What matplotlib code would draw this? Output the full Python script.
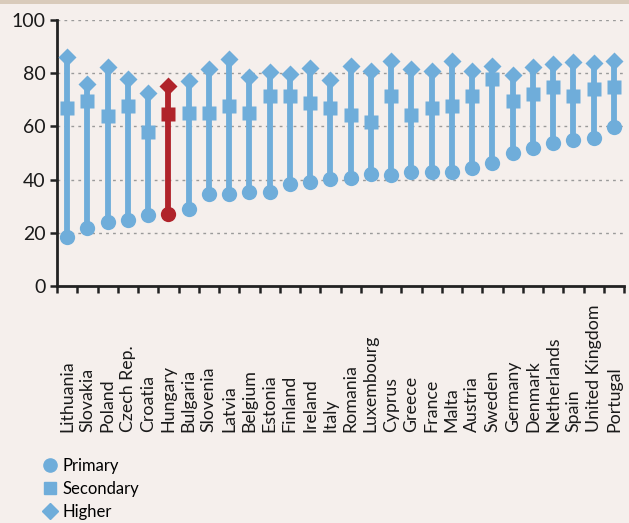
import matplotlib
matplotlib.use("Agg")
import matplotlib.pyplot as plt
from matplotlib.lines import Line2D
from matplotlib.patches import Rectangle
import numpy as np

plt.rcParams['font.family'] = ['Lato', 'DejaVu Sans']

countries = ["Lithuania", "Slovakia", "Poland", "Czech Rep.", "Croatia", "Hungary",
             "Bulgaria", "Slovenia", "Latvia", "Belgium", "Estonia", "Finland",
             "Ireland", "Italy", "Romania", "Luxembourg", "Cyprus", "Greece",
             "France", "Malta", "Austria", "Sweden", "Germany", "Denmark",
             "Netherlands", "Spain", "United Kingdom", "Portugal"]
primary = [18.5, 21.9, 24.2, 24.8, 26.7, 27.2, 28.9, 34.5, 34.5, 35.3, 35.3, 38.2,
           39.2, 40.1, 40.7, 42.1, 41.8, 42.7, 42.7, 42.7, 44.5, 46.4, 50.1, 52.0,
           53.6, 54.7, 55.5, 59.6]
secondary = [66.8, 69.5, 63.9, 67.7, 57.8, 64.7, 64.9, 64.9, 67.7, 64.9, 71.4, 71.4,
             68.7, 66.8, 64.2, 61.5, 71.4, 64.2, 66.8, 67.7, 71.4, 77.7, 69.7, 72.3,
             74.9, 71.3, 74.1, 74.9]
higher = [86.2, 75.9, 82.4, 77.7, 72.7, 75.3, 77.2, 81.7, 85.5, 78.7, 80.6, 79.7,
          81.8, 77.4, 82.7, 80.9, 84.5, 81.6, 80.7, 84.5, 80.7, 82.7, 79.2, 82.2,
          83.5, 84.1, 83.7, 84.7]
highlight = "Hungary"
yticks = [0, 20, 40, 60, 80, 100]

BLUE = "#6FADDA"
RED = "#B0232A"
BG = "#F5EFEC"

fig = plt.figure(figsize=(6.29, 5.23), dpi=100, facecolor=BG)
fig.patches.append(Rectangle((0, 1 - 3.5/523), 1, 3.5/523, transform=fig.transFigure,
                             facecolor="#D9CBBB", edgecolor="none", zorder=0))
ax = fig.add_axes([57/629, 1 - 286/523, 567/629, 266/523])
ax.set_facecolor(BG)

x = np.arange(len(countries))
for i, c in enumerate(countries):
    col = RED if c == highlight else BLUE
    ax.plot([x[i], x[i]], [primary[i], higher[i]], color=col, lw=4.2,
            solid_capstyle='butt', zorder=2)
    ax.plot(x[i], primary[i], 'o', color=col, ms=11, mec='none', zorder=3)
    ax.plot(x[i], secondary[i], 's', color=col, ms=10, mec='none', zorder=3)
    ax.plot(x[i], higher[i], 'D', color=col, ms=9.5, mec='none', zorder=3)

ax.set_xlim(-0.5, len(countries) - 0.5)
ax.set_ylim(0, 100)
ax.set_yticks(yticks)
ax.set_yticklabels([str(v) for v in yticks], fontsize=14, color="#1a1a1a")
ax.set_xticks(np.arange(len(countries) + 1) - 0.5)
ax.set_xticklabels([])
ax.tick_params(axis='x', direction='out', length=5, width=1.8, color="#222222")
ax.tick_params(axis='y', direction='out', length=5, width=1.8, color="#222222", pad=3)

for v in yticks[1:]:
    ax.axhline(v, color="#9a9a9a", lw=1, ls=(0, (2, 3)), zorder=1)

for s in ['top', 'right']:
    ax.spines[s].set_visible(False)
for s in ['left', 'bottom']:
    ax.spines[s].set_linewidth(2)
    ax.spines[s].set_color("#222222")

trans = ax.get_xaxis_transform()
label_y = -(432 - 286) / 266
for i, c in enumerate(countries):
    ax.text(x[i], label_y, c, rotation=90, ha='center', va='bottom',
            transform=trans, fontsize=12.8, color="#1a1a1a")

handles = [Line2D([], [], marker='o', ls='none', color=BLUE, ms=9.5, label='Primary'),
           Line2D([], [], marker='s', ls='none', color=BLUE, ms=8, label='Secondary'),
           Line2D([], [], marker='D', ls='none', color=BLUE, ms=8, label='Higher')]
fig.legend(handles=handles, loc='upper left', bbox_to_anchor=(38/629, 1 - 451/523),
           frameon=False, fontsize=12, handlelength=0.6, handletextpad=0.45,
           labelspacing=0.42, borderaxespad=0)

fig.savefig("out.png", dpi=100, facecolor=BG)
